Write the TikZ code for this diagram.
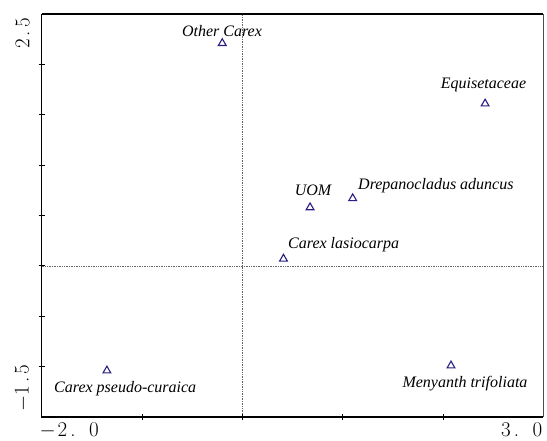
\documentclass[tikz,border=0pt]{standalone}
\usepackage{fontspec}
\newfontfamily\labfont{Liberation Serif}
\usetikzlibrary{shapes.geometric}
\definecolor{trinavy}{RGB}{40,30,130}
\newcommand{\hw}[1]{\makebox[10.5pt]{#1}}
\newcommand{\mnh}{\makebox[19pt]{$-$}}
\newcommand{\mnv}{\makebox[15pt]{$-$}}
\begin{document}
\begin{tikzpicture}[x=1pt,y=-1pt,
  tri/.style={regular polygon, regular polygon sides=3, draw=trinavy, line width=1.1pt, minimum size=9pt, inner sep=0pt},
  lab/.style={font=\labfont\itshape\fontsize{16}{16}\selectfont, inner sep=0pt},
  axnum/.style={font=\fontsize{21}{21}\selectfont, inner sep=0pt},
  frameline/.style={line width=1.2pt},
  zeroline/.style={densely dotted, black!60, line width=0.7pt},
  tickmark/.style={line width=0.9pt}]
\useasboundingbox (0,0) rectangle (547,441);
\begin{scope}[shift={(242.34,265.9)}, x=100.32pt, y=100.75pt]
  % zero lines
  \draw[zeroline] (0,-1.5) -- (0,2.5);
  \draw[zeroline] (-2,0) -- (3,0);
  % frame
  \draw[frameline] (-2,2.5) -- (-2,-1.5) -- (3,-1.5);
  \draw[frameline] (-2,2.5) -- (3,2.5);
  \draw[frameline, black!70] (3,2.5) -- (3,-1.5);
  % ticks
  \foreach \x in {-1,0,1,2} \draw[tickmark] (\x,-1.5) ++(0,-3pt) -- ++(0,6pt);
  \foreach \y in {-1,-0.5,0,0.5,1,1.5,2} \draw[tickmark] (-2,\y) ++(-3pt,0) -- ++(6pt,0);
  % points
  \node[tri] (oc) at (-0.20,2.21) {};
  \node[tri] (eq) at (2.42,1.61) {};
  \node[tri] (uom) at (0.675,0.58) {};
  \node[tri] (dr) at (1.10,0.67) {};
  \node[tri] (cl) at (0.41,0.07) {};
  \node[tri] (cp) at (-1.35,-1.04) {};
  \node[tri] (mt) at (2.08,-0.99) {};
\end{scope}
% labels
\node[lab, anchor=base] (ocl) at (222,36.5) {Other Carex};
\node[lab, anchor=base] (eql) at (483.5,89) {Equisetaceae};
\node[lab, anchor=base] (uoml) at (313,196) {UOM};
\node[lab, anchor=base west] (drl) at (358,190) {Drepanocladus aduncus};
\node[lab, anchor=base west] (cll) at (288,249) {Carex lasiocarpa};
\node[lab, anchor=base west] (cpl) at (54,392) {Carex pseudo-curaica};
\node[lab, anchor=base] (mtl) at (465,387) {Menyanth trifoliata};
% axis numbers
\node[axnum, rotate=90, anchor=east] (ytop) at (22.5,17.5) {\hw{2}\hw{.}\hw{5}};
\node[axnum, rotate=90, anchor=west] (ybot) at (22.5,411) {\mnv\hw{1}\hw{.}\hw{5}};
\node[axnum, anchor=north west] (xleft) at (38,422) {\mnh\hw{2}\hw{.}\hw{}\hw{0}};
\node[axnum, anchor=north east] (xright) at (543,422) {\hw{3}\hw{.}\hw{}\hw{0}};
\end{tikzpicture}
\end{document}
